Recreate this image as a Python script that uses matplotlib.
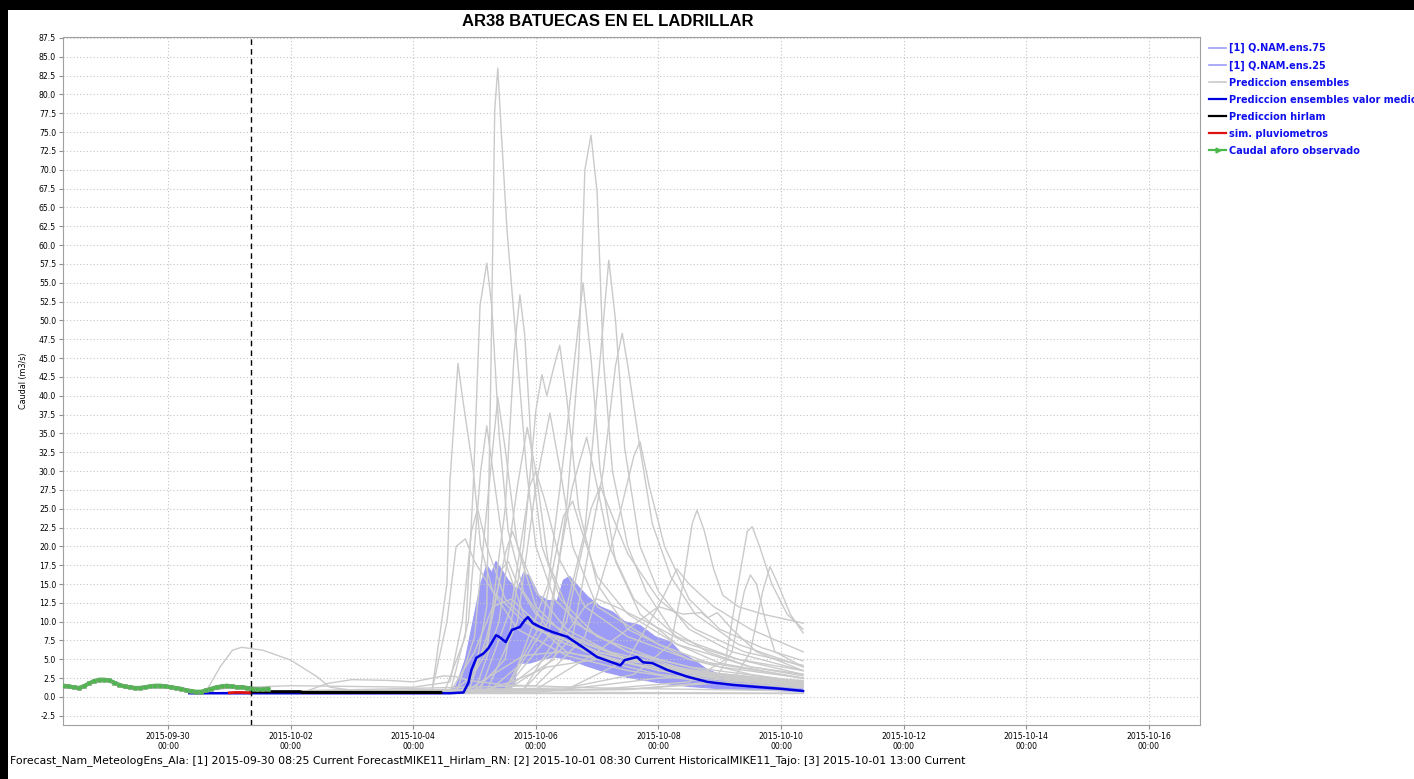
import matplotlib

matplotlib.use("Agg")
import matplotlib.dates as mdates
import matplotlib.pyplot as plt
import numpy as np
from matplotlib.lines import Line2D
from matplotlib.patches import Rectangle

# time axis: days since 2015-09-30 00:00
T0 = np.datetime64("2015-09-30T00:00")
X_MIN, X_MAX = -1.713, 16.835
Y_MIN, Y_MAX = -3.72, 87.63

TITLE = "AR38 BATUECAS EN EL LADRILLAR"
FOOTER = ("Forecast_Nam_MeteologEns_Ala: [1] 2015-09-30 08:25 Current "
          "ForecastMIKE11_Hirlam_RN: [2] 2015-10-01 08:30 Current "
          "HistoricalMIKE11_Tajo: [3] 2015-10-01 13:00 Current")
FORECAST_TIME = 1.354  # 2015-10-01 08:30

# observed discharge, every 2 h from 2015-09-28 07:00
obs_start = -1.708
obs_step_h = 2
obs_values = [1.5, 1.4, 1.3, 1.2, 1.4, 1.8, 2.1, 2.3, 2.3, 2.2, 1.9, 1.6, 1.4, 1.3,
              1.2, 1.2, 1.3, 1.4, 1.5, 1.5, 1.4, 1.3, 1.2, 1.1, 0.9, 0.8, 0.7, 0.7,
              0.9, 1.1, 1.3, 1.4, 1.5, 1.4, 1.3, 1.3, 1.2, 1.1, 1.0, 1.0, 1.1]

# sim. pluviometros
rain_days = [1.0, 1.1, 1.2, 1.35]
rain_vals = [0.55, 0.6, 0.6, 0.55]

# prediccion hirlam
hirlam_days = [1.354, 2.15, 2.2, 4.45]
hirlam_vals = [0.7, 0.7, 0.6, 0.6]

# ensemble mean
mean_days = [0.35, 4.6, 4.82, 4.9, 4.95, 5.03, 5.15, 5.23, 5.35, 5.4, 5.51, 5.61, 5.74,
             5.82, 5.87, 5.95, 6.07, 6.28, 6.51, 6.77, 7.0, 7.38, 7.45, 7.65, 7.75, 7.9,
             8.14, 8.47, 8.8, 9.22, 9.66, 9.98, 10.36]
mean_vals = [0.5, 0.5, 0.6, 1.9, 3.6, 5.2, 5.8, 6.5, 8.2, 8.0, 7.3, 8.9, 9.3,
             10.2, 10.6, 9.8, 9.3, 8.6, 8.0, 6.6, 5.3, 4.2, 4.9, 5.3, 4.6, 4.5,
             3.6, 2.7, 2.0, 1.6, 1.3, 1.1, 0.8]

# quartile band Q.NAM.ens.75 / Q.NAM.ens.25
q75_days = [0.35, 4.5, 4.7, 4.85, 5.0, 5.1, 5.2, 5.28, 5.35, 5.45, 5.55, 5.7, 5.8, 5.9,
            6.05, 6.2, 6.35, 6.45, 6.55, 6.7, 6.85, 7.05, 7.25, 7.45, 7.7, 7.95, 8.2,
            8.35, 8.6, 8.8, 9.1, 9.5, 9.95, 10.36]
q75_vals = [0.5, 0.5, 1.5, 5.0, 11.0, 15.0, 17.5, 16.5, 18.0, 16.8, 15.5, 14.2, 16.5, 16.0,
            13.5, 12.8, 12.8, 15.5, 16.0, 14.6, 13.3, 12.0, 11.3, 10.0, 9.5, 8.0, 7.3,
            6.0, 4.8, 3.6, 2.7, 2.1, 1.5, 1.2]
q25_days = [0.35, 4.5, 5.0, 5.5, 5.65, 5.7, 5.9, 6.1, 6.3, 6.55, 6.8, 7.1, 7.5, 8.0,
            8.5, 9.0, 9.5, 10.36]
q25_vals = [0.5, 0.5, 0.6, 0.9, 1.5, 4.5, 4.5, 5.0, 5.3, 5.0, 4.2, 3.4, 2.6, 1.9,
            1.4, 1.1, 1.0, 0.7]

# ensemble members (days, values)
ensembles = [
    ([0.35, 4.6, 5.0, 5.2, 5.27, 5.33, 5.38, 5.43, 5.53, 5.69, 5.85, 6.0, 6.3, 6.8, 7.5, 8.5, 9.5, 10.36],
     [0.5, 0.5, 3, 12, 45, 78, 83.5, 76, 62, 46, 30, 20, 13, 9, 6, 3.5, 2.2, 1.6]),
    ([0.35, 5.0, 5.6, 6.2, 6.5, 6.7, 6.8, 6.9, 7.0, 7.1, 7.25, 7.5, 7.8, 8.2, 8.8, 9.5, 10.36],
     [0.5, 0.5, 2, 8, 25, 45, 70, 74.6, 67, 45, 30, 20, 14, 9, 6, 4, 2.8]),
    ([0.35, 4.5, 4.85, 4.98, 5.09, 5.2, 5.28, 5.4, 5.55, 5.8, 6.2, 7.0, 8.0, 9.0, 10.36],
     [0.5, 0.5, 8, 28, 52, 57.6, 52, 35, 22, 14, 9, 6, 4, 2.5, 1.5]),
    ([0.35, 4.3, 4.55, 4.6, 4.73, 4.8, 4.98, 5.1, 5.3, 5.7, 6.5, 7.5, 8.5, 10.36],
     [0.5, 0.5, 15, 28.8, 44.3, 40, 30, 20, 14, 9, 5.5, 3.5, 2.3, 1.2]),
    ([0.35, 4.8, 5.2, 5.5, 5.65, 5.74, 5.82, 5.95, 6.1, 6.4, 7.0, 8.0, 9.0, 10.36],
     [0.5, 0.5, 6, 25, 46, 53.4, 48, 30, 20, 13, 8, 5, 3, 1.8]),
    ([0.35, 5.2, 5.7, 6.2, 6.5, 6.77, 6.9, 7.05, 7.3, 7.7, 8.3, 9.0, 10.36],
     [0.5, 0.6, 4, 15, 35, 55, 45, 30, 18, 11, 7, 4.5, 2.5]),
    ([0.35, 5.5, 6.3, 6.8, 7.05, 7.19, 7.3, 7.45, 7.7, 8.0, 8.5, 9.2, 10.36],
     [0.5, 0.8, 5, 22, 45, 58, 50, 33, 20, 14, 9, 6, 3.5]),
    ([0.35, 5.8, 6.6, 7.1, 7.3, 7.41, 7.5, 7.7, 7.9, 8.2, 8.6, 9.3, 10.36],
     [0.5, 1, 8, 30, 44, 48.3, 44, 33, 23, 16, 11, 7, 4]),
    ([0.35, 5.0, 5.5, 5.8, 6.0, 6.1, 6.18, 6.3, 6.39, 6.5, 6.7, 7.0, 7.5, 8.5, 9.5, 10.36],
     [0.5, 0.7, 5, 20, 38, 42.8, 40, 44, 46.7, 40, 25, 15, 9, 5, 3, 2]),
    ([0.35, 4.7, 5.0, 5.2, 5.38, 5.5, 5.7, 6.0, 6.5, 7.5, 9.0, 10.36],
     [0.5, 0.5, 8, 25, 39.8, 33, 20, 12, 8, 5, 3, 1.5]),
    ([0.35, 4.6, 4.9, 5.1, 5.2, 5.3, 5.5, 5.8, 6.5, 8.0, 10.36],
     [0.5, 0.5, 10, 30, 36, 30, 18, 11, 6, 3, 1.3]),
    ([0.35, 5.0, 5.4, 5.7, 5.86, 6.0, 6.2, 6.6, 7.5, 8.5, 10.36],
     [0.5, 0.6, 10, 28, 35.8, 30, 18, 10, 6, 4, 2]),
    ([0.35, 5.2, 5.7, 6.0, 6.23, 6.4, 6.6, 7.0, 8.0, 9.0, 10.36],
     [0.5, 0.8, 10, 28, 37.7, 30, 20, 12, 7, 4, 2.5]),
    ([0.35, 5.5, 6.2, 6.6, 6.83, 7.0, 7.2, 7.6, 8.3, 9.3, 10.36],
     [0.5, 1, 10, 28, 34.5, 28, 20, 13, 8, 5, 3]),
    ([0.35, 6.0, 6.8, 7.3, 7.6, 7.7, 7.85, 8.1, 8.5, 9.0, 9.7, 10.36],
     [0.5, 1.5, 8, 22, 32, 33.9, 28, 20, 13, 9, 6.5, 4.8]),
    ([0.35, 6.5, 7.6, 8.2, 8.4, 8.55, 8.63, 8.75, 8.9, 9.05, 9.3, 9.7, 10.36],
     [0.5, 1.2, 3, 7, 15, 23, 24.8, 22, 17, 13.5, 12, 11, 9.8]),
    ([0.35, 7.0, 8.5, 9.1, 9.3, 9.45, 9.53, 9.65, 9.85, 10.1, 10.36],
     [0.5, 1, 2, 5, 15, 22, 22.6, 20, 15, 11, 9]),
    ([0.35, 7.5, 9.2, 9.5, 9.7, 9.82, 9.95, 10.15, 10.36],
     [0.5, 1, 2, 6, 14, 17.3, 15, 11, 8.5]),
    ([0.35, 7.5, 8.9, 9.2, 9.4, 9.5, 9.6, 9.75, 9.9, 10.36],
     [0.5, 1, 2, 6, 14, 16.2, 15, 10, 6, 4]),
    ([0.35, 6.0, 7.0, 7.5, 8.0, 8.4, 8.7, 8.8, 8.96, 9.2, 9.6, 10.36],
     [0.5, 1, 6, 9, 12, 11, 11.2, 10.5, 11.2, 9, 6, 3.5]),
    ([0.35, 0.64, 0.85, 1.05, 1.2, 1.55, 2.0, 2.43, 2.64, 3.0, 4.5, 5.5, 7.0, 10.36],
     [0.5, 1, 4, 6.2, 6.6, 6.2, 4.9, 2.7, 1.3, 0.9, 0.8, 0.7, 0.6, 0.5]),
    ([0.35, 2.2, 2.6, 3.0, 3.6, 4.0, 4.3, 4.5, 4.7, 4.9, 5.5, 7.0, 10.36],
     [0.5, 0.6, 1.8, 2.3, 2.2, 2.0, 2.5, 2.8, 2.7, 2.2, 1.6, 1.2, 0.8]),
    ([0.35, 4.3, 4.55, 4.7, 4.85, 5.0, 5.3, 5.8, 6.5, 7.5, 9.0, 10.36],
     [0.5, 0.6, 10, 20, 21, 18, 14, 10, 7, 4.5, 2.5, 1.5]),
    ([0.35, 5.1, 5.6, 5.9, 6.0, 6.15, 6.4, 6.8, 7.5, 8.5, 10.36],
     [0.5, 1, 12, 28, 30, 26, 18, 12, 8, 5, 2.5]),
    ([0.35, 5.5, 6.1, 6.45, 6.6, 6.75, 7.0, 7.5, 8.3, 9.5, 10.36],
     [0.5, 1, 10, 24, 26, 22, 16, 11, 7, 4, 3]),
    ([0.35, 4.9, 5.2, 5.45, 5.55, 5.7, 6.0, 6.6, 7.5, 8.7, 10.36],
     [0.5, 0.6, 8, 17, 18, 15, 11, 8, 5, 3, 1.8]),
    ([0.35, 5.5, 6.3, 6.8, 7.0, 7.3, 7.8, 8.5, 9.3, 10.36],
     [0.5, 1, 6, 12, 13, 12, 10, 7, 5, 3.5]),
    ([0.35, 5.8, 6.5, 6.9, 7.05, 7.2, 7.5, 8.0, 8.6, 9.4, 10.36],
     [0.5, 1, 10, 25, 28, 25, 19, 13, 9, 6, 4.2]),
    ([0.35, 4.8, 5.2, 5.5, 5.62, 5.75, 6.0, 6.5, 7.2, 8.5, 10.36],
     [0.5, 0.6, 7, 19, 22, 19, 14, 9, 6, 3.5, 2]),
    ([0.35, 5.0, 5.6, 6.2, 7.0, 7.8, 8.8, 10.36],
     [0.5, 0.5, 2, 4, 5, 4.5, 3, 1.8]),
    ([0.35, 4.8, 5.3, 5.8, 6.4, 7.2, 8.2, 9.5, 10.36],
     [0.5, 0.5, 3, 5.5, 6, 5, 3.2, 2, 1.4]),
    ([0.35, 6.0, 7.0, 8.0, 9.0, 10.36],
     [0.5, 0.6, 1.5, 2.5, 2.8, 2.2]),
    ([0.35, 10.36],
     [0.5, 0.5]),
    ([0.35, 4.6, 5.0, 5.3, 5.6, 6.0, 6.8, 8.0, 10.36],
     [0.5, 0.6, 6, 12, 13, 10, 6, 3.5, 1.6]),
    ([0.35, 6.5, 7.5, 8.0, 8.3, 8.5, 8.9, 9.5, 10.36],
     [0.5, 1, 5, 12, 17, 15, 12, 9, 6]),
    ([0.35, 1.0, 2.0, 3.0, 4.0, 4.6, 4.8, 4.95, 5.05, 5.2, 5.5, 6.0, 7.0, 8.5, 10.36],
     [0.5, 1.2, 1.5, 1.4, 1.3, 2, 10, 22, 25, 20, 13, 9, 6, 3.5, 2]),
]

LEGEND_LABELS = ["[1] Q.NAM.ens.75", "[1] Q.NAM.ens.25", "Prediccion ensembles",
                 "Prediccion ensembles valor medio", "Prediccion hirlam",
                 "sim. pluviometros", "Caudal aforo observado"]


def to_time(days):
    return T0 + (np.asarray(days, dtype=float) * 1440).round().astype("timedelta64[m]")


W, H = 1414, 779
fig = plt.figure(figsize=(W / 100, H / 100), dpi=100, facecolor="black")
fig.add_artist(Rectangle((8 / W, 0), 1, 1 - 10 / H, transform=fig.transFigure,
                         facecolor="white", edgecolor="none", zorder=-5))
ax = fig.add_axes([63 / W, 1 - 725 / H, (1200 - 63) / W, (725 - 37) / H])

# quartile band
band_x = np.concatenate([to_time(q75_days), to_time(q25_days)[::-1]])
band_y = np.concatenate([q75_vals, q25_vals[::-1]])
ax.fill(band_x, band_y, facecolor="#9c9cf6", edgecolor="none", zorder=1)
ax.plot(to_time(q75_days), q75_vals, color="#9c9cf6", lw=0.8, zorder=1)
ax.plot(to_time(q25_days), q25_vals, color="#9c9cf6", lw=0.8, zorder=1)

for d, v in ensembles:
    ax.plot(to_time(d), v, color="#cacaca", lw=1.0, zorder=2)

ax.plot(to_time(mean_days), mean_vals, color="#0000e0", lw=1.8, zorder=4)
ax.plot(to_time(hirlam_days), hirlam_vals, color="black", lw=2.2, zorder=5)
ax.plot(to_time(rain_days), rain_vals, color="#e01010", lw=2.0, zorder=5)

obs_t = to_time(obs_start) + np.arange(len(obs_values)) * np.timedelta64(obs_step_h * 60, "m")
ax.plot(obs_t, obs_values, color="#4cb84c", lw=3.0, marker="s", ms=2.6,
        mfc="#4cb84c", mec="#7f9f7f", mew=0.4, zorder=6)

ax.axvline(to_time(FORECAST_TIME), color="black", lw=1.0, ls=(0, (4, 3)), zorder=7)

ax.set_xlim(to_time(X_MIN), to_time(X_MAX))
ax.set_ylim(Y_MIN, Y_MAX)
ax.xaxis.set_major_locator(mdates.DayLocator(bymonthday=[2, 4, 6, 8, 10, 12, 14, 16, 30]))
ax.xaxis.set_major_formatter(mdates.DateFormatter("%Y-%m-%d\n%H:%M"))
ax.set_yticks(np.arange(-2.5, 87.6, 2.5))
ax.yaxis.set_major_formatter(matplotlib.ticker.FormatStrFormatter("%.1f"))
ax.tick_params(labelsize=5.6, length=3, color="#909090", pad=2)
ax.grid(True, color="#c4c4c4", lw=0.8, ls=(0, (1, 2)))
for s in ax.spines.values():
    s.set_color("#a0a0a0")
ax.set_ylabel("Caudal (m3/s)", fontsize=5.8, labelpad=8)

fig.text(608 / W, 1 - 22 / H, TITLE, ha="center", va="center", fontsize=12,
         fontweight="bold", family="Liberation Sans")
fig.text(10 / W, 1 - 761 / H, FOOTER, ha="left", va="center", fontsize=7.8)

handles = [
    Line2D([], [], color="#9c9cf6", lw=1.2),
    Line2D([], [], color="#9c9cf6", lw=1.2),
    Line2D([], [], color="#cacaca", lw=1.2),
    Line2D([], [], color="#0000e0", lw=1.6),
    Line2D([], [], color="black", lw=1.6),
    Line2D([], [], color="#e01010", lw=1.6),
    Line2D([], [], color="#4cb84c", lw=1.6, marker=">", ms=3.5),
]
ax.legend(handles, LEGEND_LABELS, loc="upper left", bbox_to_anchor=(1209 / W, 1 - 43 / H),
          bbox_transform=fig.transFigure, frameon=False, borderpad=0, borderaxespad=0,
          handlelength=1.75, handletextpad=0.3, labelspacing=0.72,
          prop={"size": 7, "weight": "bold"}, labelcolor="#1010ee")

fig.savefig("out.png", dpi=100, facecolor=fig.get_facecolor())
